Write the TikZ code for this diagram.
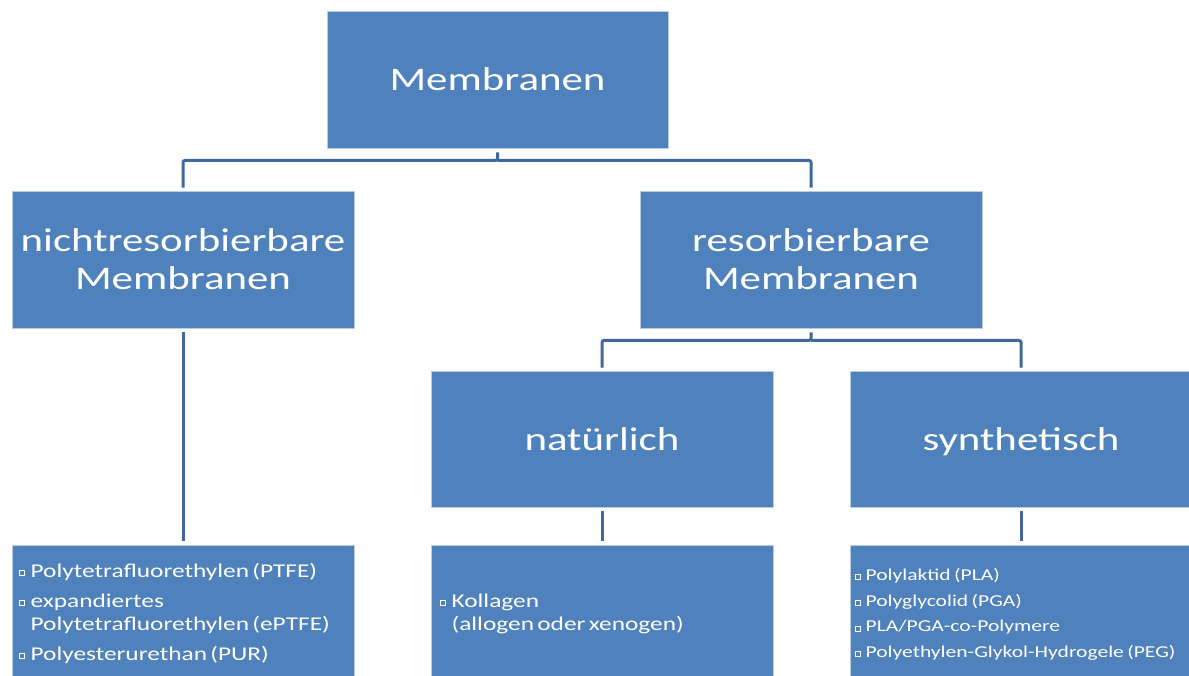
\documentclass[tikz,border=0pt]{standalone}
\usepackage{fontspec}
\setmainfont[FakeStretch=1.3]{Carlito}
\definecolor{boxblue}{RGB}{79,129,189}
\definecolor{boxedge}{RGB}{185,205,230}
\definecolor{linkblue}{RGB}{64,104,158}
\newcommand{\bul}{\raisebox{0.22em}{\setlength\fboxsep{2.2pt}\setlength\fboxrule{0.6pt}\fbox{}}}
\begin{document}
\begin{tikzpicture}[x=1pt,y=-1pt,
  box/.style={draw=boxedge, line width=0.8pt, fill=boxblue, text=white, inner sep=0pt,
    minimum width=342pt, minimum height=137pt, align=center},
  big/.style={font=\fontsize{33}{38}\selectfont},
  listbox/.style={box, align=left, inner ysep=0pt},
  conn/.style={draw=linkblue, line width=3pt, rounded corners=2pt}]
\clip (0,0) rectangle (1189,675);
\fill[white] (0,0) rectangle (1189,675);
% nodes
\node[box,big,minimum width=341pt] (m) at (497.5,79.5) {Membranen};
\node[box,big] (nr) at (183,259.5) {nichtresorbierbare\\Membranen};
\node[box,big] (rs) at (811,259.5) {resorbierbare\\Membranen};
\node[box,big,minimum height=136pt,text depth=0pt] (nat) at (602,439) {natürlich};
\node[box,big,minimum height=136pt,text depth=0pt] (syn) at (1021,439) {synthetisch};
\node[listbox, minimum height=138pt, text width=328pt, inner xsep=7pt] (b1) at (183,614)
  {\fontsize{19.5}{23}\selectfont
   \begin{tabular}{@{}l@{\hspace{6pt}}l@{}}
   \bul & Polytetrafluorethylen (PTFE)\\[7pt]
   \bul & expandiertes\\
        & Polytetrafluorethylen (ePTFE)\\[7pt]
   \bul & Polyesterurethan (PUR)
   \end{tabular}};
\node[listbox, minimum height=138pt, text width=324pt, inner xsep=9pt] (b2) at (602,614)
  {\fontsize{19.5}{23}\selectfont
   \begin{tabular}{@{}l@{\hspace{6pt}}l@{}}
   \bul & Kollagen\\
        & (allogen oder xenogen)
   \end{tabular}};
\node[listbox, minimum height=138pt, text width=332pt, inner xsep=5pt] (b3) at (1021,614)
  {\fontsize{16.6}{25.7}\selectfont
   \begin{tabular}{@{}l@{\hspace{5pt}}l@{}}
   \bul & Polylaktid (PLA)\\
   \bul & Polyglycolid (PGA)\\
   \bul & PLA/PGA-co-Polymere\\
   \bul & Polyethylen-Glykol-Hydrogele (PEG)
   \end{tabular}};
% connectors
\draw[conn] ([yshift=-4pt]m.south) -- ([yshift=-12pt]m.south) -| ([yshift=3pt]nr.north);
\draw[conn] ([yshift=-12pt]m.south) -| ([yshift=3pt]rs.north);
\draw[conn] ([yshift=-4pt]nr.south) -- ([yshift=4pt]b1.north);
\draw[conn] ([yshift=-4pt]rs.south) -- ([yshift=-12pt]rs.south) -| ([yshift=3pt]nat.north);
\draw[conn] ([yshift=-12pt]rs.south) -| ([yshift=3pt]syn.north);
\draw[conn] ([yshift=-4pt]nat.south) -- ([yshift=4pt]b2.north);
\draw[conn] ([yshift=-4pt]syn.south) -- ([yshift=4pt]b3.north);
\end{tikzpicture}
\end{document}
